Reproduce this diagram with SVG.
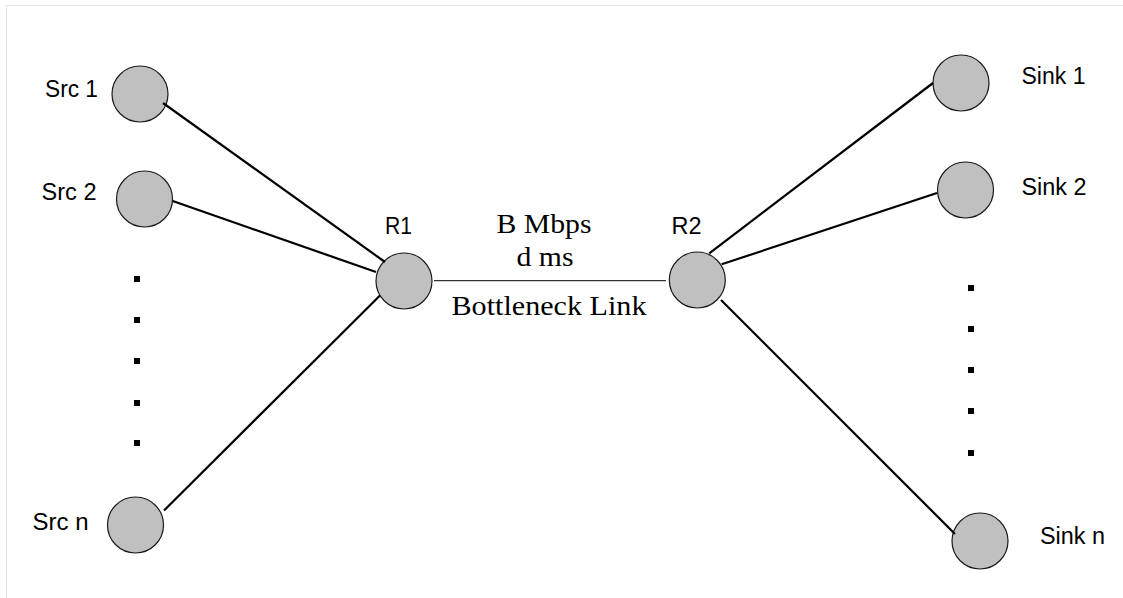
<svg xmlns="http://www.w3.org/2000/svg" width="1123" height="598" viewBox="0 0 1123 598">
<style>
.bg{fill:#ffffff}
.frame{stroke:#e6e6e6;stroke-width:1;fill:none}
.node{fill:#c0c0c0;stroke:#1a1a1a;stroke-width:1.2}
.link{stroke:#000;stroke-width:2.2;fill:none}
.thin{stroke:#000;stroke-width:1;fill:none}
.lbl{font-family:"Liberation Sans",Arial,sans-serif;font-size:23px;fill:#000}
.ser{font-family:"Liberation Serif","Times New Roman",serif;font-size:28px;fill:#000}
.dot{fill:#000}
</style>
<rect class="bg" x="0" y="0" width="1123" height="598"/>
<path class="frame" d="M6.5,598 V5.5 H1123"/>
<g id="nodes">
<g id="src1"><circle class="node" cx="140" cy="94" r="28"/><text class="lbl" x="45" y="97" textLength="53" lengthAdjust="spacingAndGlyphs">Src 1</text></g>
<g id="src2"><circle class="node" cx="144.5" cy="199" r="28"/><text class="lbl" x="41.5" y="200" textLength="55" lengthAdjust="spacingAndGlyphs">Src 2</text></g>
<g id="srcn"><circle class="node" cx="135.5" cy="525" r="28"/><text class="lbl" x="32.5" y="530" textLength="56" lengthAdjust="spacingAndGlyphs">Src n</text></g>
<g id="r1"><circle class="node" cx="404" cy="281" r="28"/><text class="lbl" x="385" y="234" textLength="27" lengthAdjust="spacingAndGlyphs">R1</text></g>
<g id="r2"><circle class="node" cx="697.3" cy="280" r="28"/><text class="lbl" x="671.5" y="234" textLength="30" lengthAdjust="spacingAndGlyphs">R2</text></g>
<g id="sink1"><circle class="node" cx="961" cy="83" r="28"/><text class="lbl" x="1021.5" y="84" textLength="64" lengthAdjust="spacingAndGlyphs">Sink 1</text></g>
<g id="sink2"><circle class="node" cx="965.5" cy="190" r="28"/><text class="lbl" x="1021.5" y="195" textLength="65" lengthAdjust="spacingAndGlyphs">Sink 2</text></g>
<g id="sinkn"><circle class="node" cx="980" cy="541" r="28"/><text class="lbl" x="1040" y="544" textLength="65" lengthAdjust="spacingAndGlyphs">Sink n</text></g>
</g>
<g id="connectors">
<line class="link" x1="163" y1="103" x2="385" y2="262"/>
<line class="link" x1="172.7" y1="201" x2="376" y2="272"/>
<line class="link" x1="164" y1="510.5" x2="380" y2="295.5"/>
<line class="thin" x1="434" y1="280.7" x2="666" y2="280.7"/>
<line class="link" x1="709.3" y1="253.3" x2="933" y2="83"/>
<line class="link" x1="721.7" y1="264.3" x2="937" y2="193"/>
<line class="link" x1="721" y1="300" x2="955" y2="534"/>
</g>
<g id="link-label">
<text class="ser" x="544" y="233" text-anchor="middle" textLength="95" lengthAdjust="spacingAndGlyphs">B Mbps</text>
<text class="ser" x="545" y="266" text-anchor="middle" textLength="57" lengthAdjust="spacingAndGlyphs">d ms</text>
<text class="ser" x="549" y="315" text-anchor="middle" textLength="195" lengthAdjust="spacingAndGlyphs">Bottleneck Link</text>
</g>
<g id="ellipsis-left">
<rect class="dot" x="134" y="276" width="6" height="6"/>
<rect class="dot" x="134" y="317" width="6" height="6"/>
<rect class="dot" x="134" y="358" width="6" height="6"/>
<rect class="dot" x="134" y="400" width="6" height="6"/>
<rect class="dot" x="134" y="440" width="6" height="6"/>
</g>
<g id="ellipsis-right">
<rect class="dot" x="968" y="285" width="6" height="6"/>
<rect class="dot" x="968" y="326" width="6" height="6"/>
<rect class="dot" x="968" y="367" width="6" height="6"/>
<rect class="dot" x="968" y="408" width="6" height="6"/>
<rect class="dot" x="968" y="450" width="6" height="6"/>
</g>
</svg>
